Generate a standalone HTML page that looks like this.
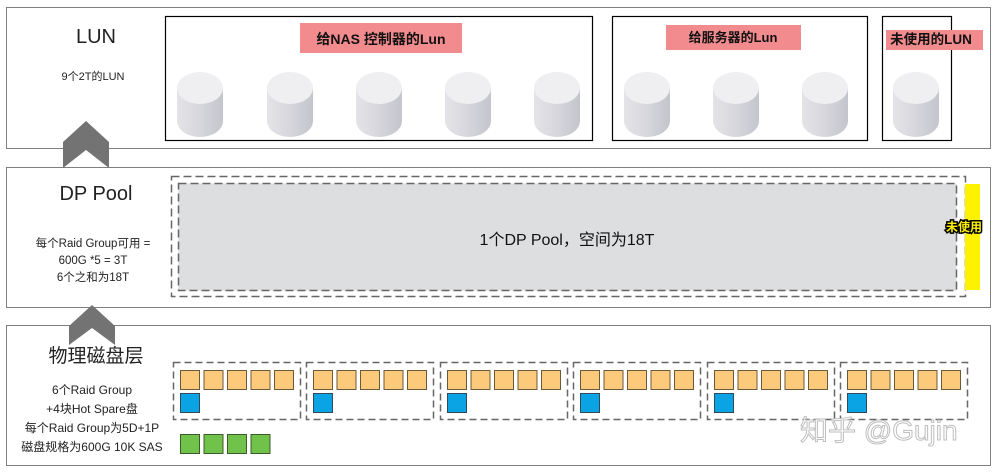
<!DOCTYPE html>
<html><head><meta charset="utf-8"><style>
html,body{margin:0;padding:0;background:#fff;}
svg{display:block;font-family:"Liberation Sans","Noto Sans CJK SC",sans-serif;}
</style></head><body>
<svg width="997" height="472" viewBox="0 0 997 472" xmlns="http://www.w3.org/2000/svg">
<defs>
<linearGradient id="cg" x1="0" x2="1" y1="0" y2="0">
<stop offset="0" stop-color="#e4e4e8"/><stop offset="0.5" stop-color="#d6d6dc"/><stop offset="1" stop-color="#c4c4cc"/>
</linearGradient>
<g id="cyl">
<path d="M-23,-17 L-23,16 A23,16 0 0 0 23,16 L23,-17 Z" fill="url(#cg)"/>
<ellipse cx="0" cy="-17" rx="23" ry="16" fill="#efeff2"/>
</g>
</defs>

<rect x="6.5" y="7.5" width="984" height="141" fill="#fff" stroke="#7f7f7f" stroke-width="1"/>
<rect x="6.5" y="167.5" width="984" height="140" fill="#fff" stroke="#7f7f7f" stroke-width="1"/>
<rect x="6.5" y="325.5" width="984" height="140" fill="#fff" stroke="#7f7f7f" stroke-width="1"/>

<polygon points="63,142 86,121 109,142 109,168 86,150 63,168" fill="#737373"/>
<polygon points="69,326 92,305 115,326 115,345 92,328 69,345" fill="#737373"/>

<text x="96" y="43" font-size="20" text-anchor="middle" fill="#222">LUN</text>
<text x="93" y="80" font-size="11" text-anchor="middle" fill="#222">9个2T的LUN</text>

<rect x="165.5" y="16.5" width="427" height="124" fill="none" stroke="#000" stroke-width="1.2"/>
<rect x="612.5" y="16.5" width="255" height="124" fill="none" stroke="#000" stroke-width="1.2"/>
<rect x="882.5" y="16.5" width="69" height="124" fill="none" stroke="#000" stroke-width="1.2"/>

<rect x="300" y="23" width="162" height="30" fill="#f28b8e"/>
<text x="381" y="44" font-size="14" font-weight="bold" text-anchor="middle" fill="#111">给NAS 控制器的Lun</text>
<rect x="666" y="25" width="135" height="25" fill="#f28b8e"/>
<text x="733" y="42" font-size="13" font-weight="bold" text-anchor="middle" fill="#111">给服务器的Lun</text>
<rect x="886" y="30" width="97" height="20" fill="#f28b8e"/>
<text x="931" y="44" font-size="13.5" font-weight="bold" text-anchor="middle" fill="#111">未使用的LUN</text>

<use href="#cyl" x="200" y="105"/>
<use href="#cyl" x="290" y="105"/>
<use href="#cyl" x="379" y="105"/>
<use href="#cyl" x="468" y="105"/>
<use href="#cyl" x="557" y="105"/>
<use href="#cyl" x="647" y="105"/>
<use href="#cyl" x="736" y="105"/>
<use href="#cyl" x="825" y="105"/>
<use href="#cyl" x="916" y="105"/>

<text x="96" y="200" font-size="20" text-anchor="middle" fill="#222">DP Pool</text>
<text x="93" y="247" font-size="11.5" text-anchor="middle" fill="#222">每个Raid Group可用 =</text>
<text x="93" y="264" font-size="11.5" text-anchor="middle" fill="#222">600G *5 = 3T</text>
<text x="93" y="281" font-size="11.5" text-anchor="middle" fill="#222">6个之和为18T</text>

<rect x="171.5" y="176.5" width="794" height="120" fill="none" stroke="#666" stroke-width="1.5" stroke-dasharray="8,4"/>
<rect x="178.5" y="183.5" width="778" height="107" fill="#dcdedf" stroke="#666" stroke-width="1.5" stroke-dasharray="8,4"/>
<text x="567" y="245" font-size="16" text-anchor="middle" fill="#111">1个DP Pool，空间为18T</text>
<rect x="965" y="184" width="15" height="106" fill="#fff200"/>
<text x="964" y="231" font-size="12" font-weight="bold" text-anchor="middle" fill="#fff200" stroke="#000" stroke-width="3" paint-order="stroke">未使用</text>

<text x="96" y="362" font-size="19" text-anchor="middle" fill="#222">物理磁盘层</text>
<text x="92" y="394" font-size="12" text-anchor="middle" fill="#222">6个Raid Group</text>
<text x="92" y="413" font-size="12" text-anchor="middle" fill="#222">+4块Hot Spare盘</text>
<text x="92" y="432" font-size="12" text-anchor="middle" fill="#222">每个Raid Group为5D+1P</text>
<text x="92" y="451" font-size="12" text-anchor="middle" fill="#222">磁盘规格为600G 10K SAS</text>

<g id="grp">
<rect x="173.5" y="362.5" width="127" height="57" fill="none" stroke="#666" stroke-width="1.5" stroke-dasharray="7,4"/>
<g fill="#fdc97b" stroke="#6b5a3a" stroke-width="1">
<rect x="180.5" y="370.5" width="19" height="19"/>
<rect x="204" y="370.5" width="19" height="19"/>
<rect x="227.5" y="370.5" width="19" height="19"/>
<rect x="251" y="370.5" width="19" height="19"/>
<rect x="274.5" y="370.5" width="19" height="19"/>
</g>
<rect x="180.5" y="393.5" width="19" height="19" fill="#0aa3e3" stroke="#2f4a5a"/>
</g>
<use href="#grp" x="133"/>
<use href="#grp" x="267"/>
<use href="#grp" x="400"/>
<use href="#grp" x="534"/>
<use href="#grp" x="667"/>

<g fill="#70c24a" stroke="#3c5a2a" stroke-width="1">
<rect x="180.5" y="434.5" width="19" height="19"/>
<rect x="204" y="434.5" width="19" height="19"/>
<rect x="227.5" y="434.5" width="19" height="19"/>
<rect x="251" y="434.5" width="19" height="19"/>
</g>

<text x="800" y="440" font-size="28" fill="#fff" stroke="#b8b8b8" stroke-width="1" opacity="0.9">知乎 @Gujin</text>
</svg>
</body></html>
